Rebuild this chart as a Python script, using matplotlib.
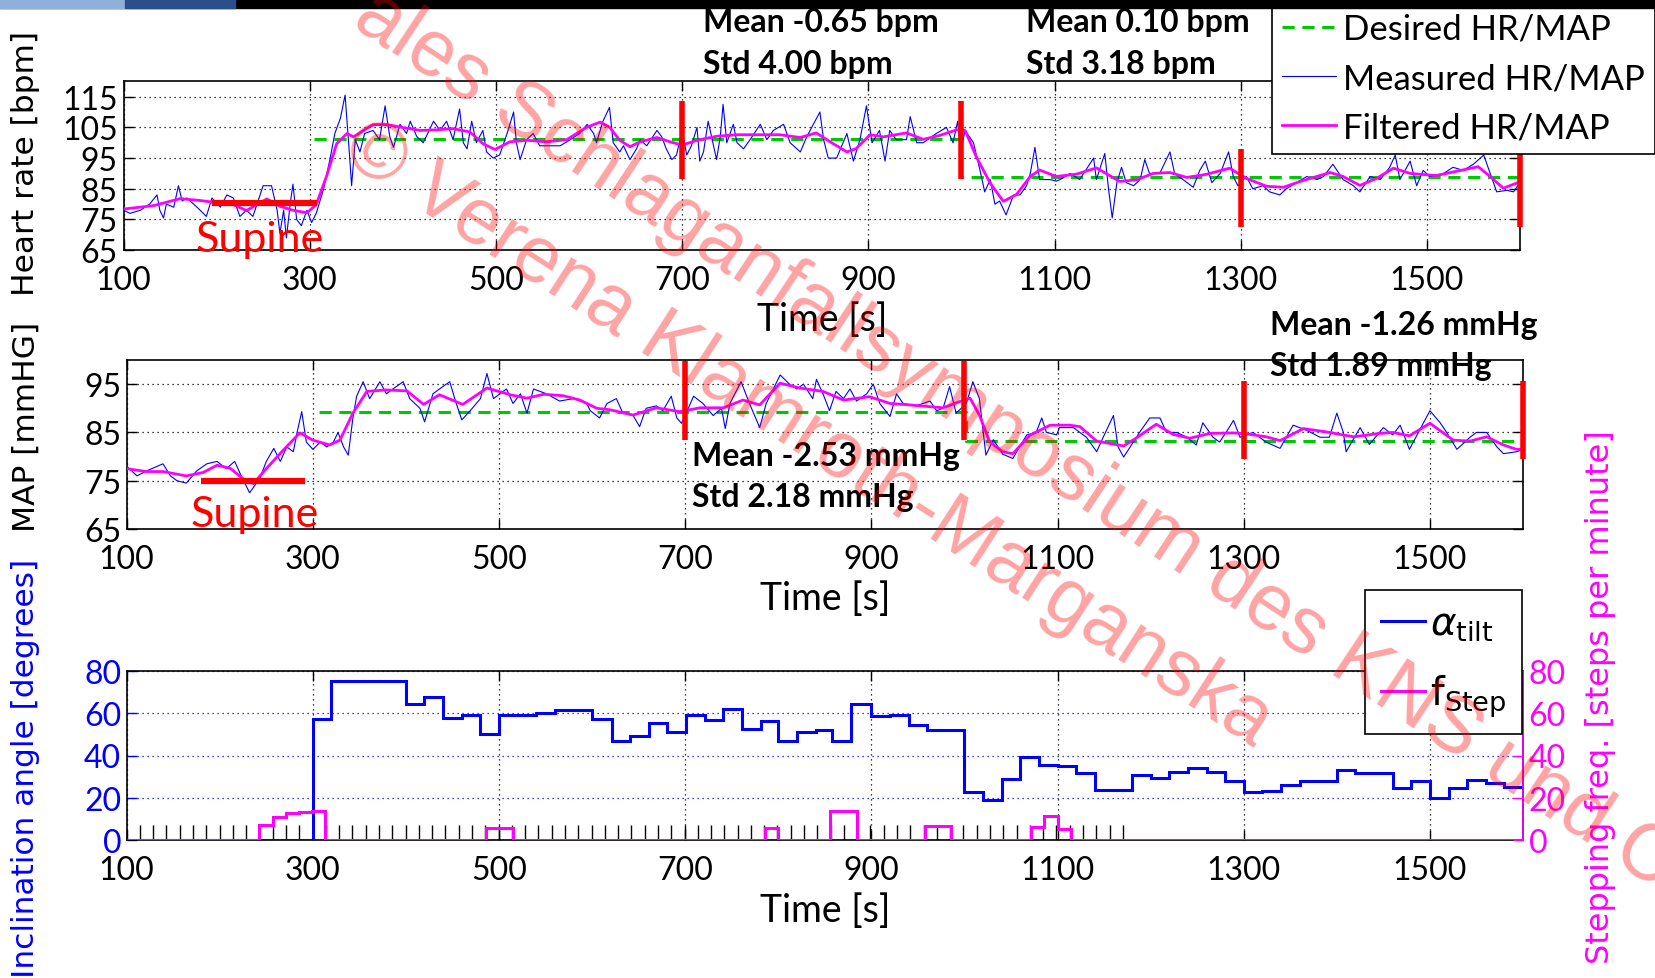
import numpy as np
import matplotlib
matplotlib.use("Agg")
import matplotlib.pyplot as plt
from matplotlib.patches import Rectangle

plt.rcParams['font.family'] = ['Lato', 'DejaVu Sans']
plt.rcParams['mathtext.fontset'] = 'dejavusans'

# ---------------- data ----------------
x_ticks = [100, 300, 500, 700, 900, 1100, 1300, 1500]

# heart rate, measured (blue)
hr_meas_t = [100, 107, 118, 128, 136, 139, 143, 146, 154, 159, 163, 168, 179, 189, 195, 204, 211, 218, 225, 232,
             239, 250, 259, 265, 268, 272, 275, 279, 282, 286, 291, 297, 302, 307, 315, 322, 327, 333, 338, 343,
             345, 349, 354, 359, 368, 375, 381, 386, 390, 397, 404, 408, 415, 422, 433, 440, 447, 454, 461, 465,
             469, 474, 479, 486, 490, 497, 504, 512, 519, 522, 526, 533, 540, 547, 554, 569, 580, 590, 598, 605,
             608, 615, 622, 626, 633, 637, 644, 651, 655, 662, 673, 678, 683, 689, 694, 700, 705, 710, 716, 719,
             723, 728, 733, 737, 741, 744, 748, 755, 759, 766, 773, 784, 791, 798, 809, 816, 827, 834, 841, 848,
             852, 857, 866, 877, 884, 891, 898, 904, 912, 918, 923, 930, 941, 945, 952, 959, 973, 984, 991, 996,
             999, 1004, 1013, 1020, 1025, 1031, 1036, 1041, 1048, 1056, 1063, 1070, 1074, 1079, 1084, 1095, 1102,
             1106, 1117, 1127, 1142, 1145, 1154, 1158, 1162, 1167, 1172, 1177, 1185, 1192, 1197, 1202, 1213, 1224,
             1229, 1238, 1249, 1256, 1262, 1269, 1278, 1287, 1292, 1297, 1306, 1313, 1324, 1331, 1342, 1349, 1360,
             1371, 1382, 1389, 1399, 1410, 1421, 1428, 1439, 1450, 1460, 1466, 1471, 1482, 1489, 1496, 1503, 1518,
             1528, 1539, 1550, 1561, 1568, 1575, 1586, 1593, 1600]
hr_meas = [78, 77, 78, 80, 83, 78, 75.5, 80, 79, 86, 81, 82, 79, 76, 82, 79, 83, 82, 76, 78,
           76, 86, 86, 78, 70.5, 78, 69, 80, 86.5, 75, 73, 78, 74, 77, 85, 95, 103, 108, 115.5, 95,
           86, 101, 97, 103, 104, 101, 112, 102, 98.5, 106, 103, 107, 102, 100, 107, 104, 107, 101, 111, 100,
           98, 107, 100, 104, 97, 95, 96, 103, 110, 100, 94.5, 101, 103, 99, 99, 99, 101, 103, 106, 103,
           100, 107, 111.5, 100, 97, 99, 94.5, 98, 101, 99, 104, 102, 98, 94.5, 96, 104, 96, 99, 105, 94,
           97, 107, 100, 94.5, 102, 112.5, 100, 106, 100, 98, 101, 106, 101, 104, 106, 100, 97, 102, 106, 110,
           101, 95, 95, 103, 94, 101, 112, 100, 104, 94, 104, 101, 101, 108.5, 100, 100, 103, 105, 100, 107,
           97, 104, 100, 91, 84, 88, 80, 81, 76.5, 83, 83, 86, 90, 98.5, 88, 88, 87.5,
           88, 90, 88, 95, 88, 96.5, 85, 75.5, 87, 92, 87, 86, 88, 94.5, 90, 90, 97,
           90, 88, 85.5, 91, 94, 87, 90, 97, 89, 86, 89, 85, 86, 84, 83, 85, 87,
           89, 88, 89, 93, 88, 86, 84, 89, 88, 92, 96, 88, 94, 86, 91, 89, 90,
           92, 91, 93, 96, 90, 84, 84.5, 84, 87]

# heart rate, filtered (magenta)
hr_filt_t = [100, 132, 161, 182, 197, 214, 232, 254, 268, 282, 297, 307, 318, 329, 340, 347, 368, 383, 401, 419,
             436, 454, 472, 486, 499, 515, 533, 554, 576, 598, 612, 622, 633, 644, 655, 673, 687, 700, 716, 737,
             759, 780, 805, 827, 844, 859, 877, 887, 902, 916, 941, 959, 977, 995, 1004, 1016, 1031, 1045, 1059,
             1074, 1084, 1102, 1124, 1145, 1170, 1188, 1206, 1224, 1242, 1263, 1288, 1306, 1328, 1346, 1364,
             1396, 1410, 1428, 1446, 1464, 1482, 1510, 1535, 1555, 1568, 1582, 1596, 1600]
hr_filt = [78.4, 79.5, 81.8, 81.2, 80.6, 80.4, 77.9, 81.7, 79.3, 78, 77.2, 79.8, 89, 99.7, 103, 101.9, 105.9, 105.9,
           104.9, 104, 104.2, 104.6, 103.5, 99.7, 97.8, 100.3, 100.8, 100.3, 101, 105.1, 106.7, 105.1, 100.8, 98.7,
           100.3, 101.7, 100.3, 99.2, 100.8, 102.1, 102.6, 102.6, 102.6, 101.7, 103.2, 100.3, 97, 98.1, 102.6,
           101.9, 103.2, 101.1, 102.4, 104.2, 104, 95.4, 86.8, 80.9, 83.1, 89, 91.1, 89, 89.8, 91.8, 87.4, 87.9,
           90, 90.3, 88.7, 89.7, 91.7, 88.4, 85.8, 85.5, 87.4, 90.3, 89, 86.1, 88.4, 91.7, 90, 89.3, 90.9, 92.2,
           89, 85.2, 86.8, 87.5]

# heart rate, desired (green)
hr_des_t = [305, 1000, 1000, 1600]
hr_des = [101.2, 101.2, 88.7, 88.7]

# mean arterial pressure, measured (blue)
map_meas_t = [100, 111, 121, 139, 147, 154, 164, 175, 186, 197, 207, 216, 223, 232, 243, 250, 258, 265, 272, 279,
              283, 288, 293, 300, 308, 315, 322, 327, 333, 338, 343, 347, 354, 361, 372, 379, 386, 397, 404, 415,
              420, 429, 436, 447, 454, 460, 469, 480, 487, 494, 508, 515, 523, 530, 537, 551, 565, 580, 594,
              598, 608, 616, 626, 633, 644, 651, 658, 669, 676, 685, 691, 696, 701, 709, 719, 730, 739, 743, 748,
              760, 769, 780, 787, 802, 812, 820, 827, 837, 841, 848, 855, 862, 870, 877, 884, 895, 902, 909, 920,
              927, 934, 948, 963, 970, 977, 984, 991, 1002, 1009, 1016, 1023, 1031, 1041, 1052, 1059, 1067, 1077,
              1083, 1088, 1099, 1102, 1117, 1131, 1142, 1149, 1160, 1165, 1171, 1178, 1188, 1199, 1210, 1217,
              1228, 1239, 1249, 1256, 1267, 1274, 1281, 1289, 1296, 1310, 1324, 1339, 1353, 1367, 1382, 1392,
              1400, 1407, 1410, 1425, 1435, 1450, 1460, 1468, 1478, 1489, 1500, 1511, 1518, 1529, 1543, 1550,
              1561, 1572, 1579, 1593, 1600]
map_meas = [78, 76, 77, 78.5, 76, 75, 74.5, 77, 78.5, 79, 77.5, 79, 76, 72.5, 75.5, 79, 81.7, 79, 82, 81,
            85, 89.3, 83, 81.5, 83, 82, 83, 85, 82, 80.3, 88, 92.5, 95.5, 92, 95.5, 93, 94, 95.5, 92, 90,
            87.2, 93, 94, 95.5, 91, 87.6, 89.5, 92, 97.2, 92, 94, 91, 93, 89, 94, 93, 91.5, 92, 91,
            89.5, 88, 91, 92, 89, 88.5, 86.2, 90, 90.5, 89.5, 92.5, 88, 86.9, 89, 92.5, 91, 88.5, 90, 85.8, 91,
            95.5, 91, 86, 91, 96.9, 95, 94, 95, 92, 96, 93, 89.5, 93.5, 92, 94, 91.5, 93, 95, 91, 88.3,
            93, 91, 90.5, 91.5, 89.5, 90, 94.5, 89, 91, 95.5, 92, 80.3, 83.5, 80.5, 79.6, 82, 84.5, 85,
            88, 85, 84.5, 86, 86, 84, 81, 84, 88.5, 82, 79.9, 82, 85, 88, 88, 85,
            85, 84, 82.4, 87, 84, 83, 85, 87.5, 84, 85, 83, 81.7, 86.5, 85.5, 84, 84,
            89, 85, 81, 86, 82.5, 86, 84.5, 86.5, 81.5, 85.5, 89.5, 87, 85, 81.5, 84, 85,
            85, 82, 80.6, 81, 81.5]

# mean arterial pressure, filtered (magenta)
map_filt_t = [100, 121, 139, 164, 182, 197, 211, 225, 236, 250, 268, 286, 300, 318, 329, 343, 358, 379, 401, 419,
              436, 461, 487, 512, 530, 548, 569, 587, 605, 619, 644, 669, 694, 716, 741, 762, 780, 802, 823, 848,
              870, 898, 920, 941, 977, 995, 1006, 1016, 1027, 1041, 1052, 1070, 1092, 1113, 1124, 1142, 1171,
              1185, 1206, 1224, 1242, 1264, 1289, 1303, 1324, 1339, 1364, 1389, 1418, 1446, 1460, 1478, 1500,
              1525, 1543, 1561, 1579, 1593, 1600]
map_filt = [77.5, 76.9, 76.9, 76, 76.7, 78.2, 77.6, 75.4, 74.4, 77.5, 81.3, 84.9, 83.4, 82.4, 83.4, 89, 93.5, 93.8,
            93.6, 90.8, 92.8, 90.8, 94.2, 92.8, 92.1, 92.9, 92.6, 91.7, 90, 89.7, 88.6, 90.1, 89.3, 90.1, 90.1,
            91.7, 90.7, 95.2, 94.2, 93.5, 91.7, 92.4, 91, 90.7, 90.1, 91.4, 92.1, 88.6, 83.1, 81, 80.6, 84.4,
            86.5, 86.5, 86.2, 83.2, 82.2, 83.9, 86.7, 84.6, 83.8, 84.8, 84.9, 84.7, 84.1, 83.3, 85.8, 85.1,
            84.1, 84.8, 85, 84.3, 86.9, 83.4, 83.2, 84.1, 82.4, 81.5, 81.5]

# mean arterial pressure, desired (green)
map_des_t = [307, 1002, 1002, 1600]
map_des = [89.2, 89.2, 83.2, 83.2]

# phase markers (red)
phase_t = [700, 1000, 1300, 1600]
hr_phase_lo = [88.1, 88.1, 72.6, 72.6]
hr_phase_hi = [113.5, 113.5, 97.8, 97.8]
map_phase_lo = [83.4, 83.4, 79.4, 79.4]
map_phase_hi = [99.8, 99.8, 95.7, 95.7]
hr_supine = (195, 308, 80.5)
map_supine = (180, 292, 74.9)

hr_stats = [("Mean -0.65 bpm", "Std 4.00 bpm"), ("Mean 0.10 bpm", "Std 3.18 bpm")]
map_stats = [("Mean -2.53 mmHg", "Std 2.18 mmHg"), ("Mean -1.26 mmHg", "Std 1.89 mmHg")]

# inclination angle (blue steps)
tilt_edges = [100, 300, 319, 400, 419, 440, 460, 480, 500, 540, 560, 600, 621, 641, 661, 680, 701, 721, 741, 761,
              781, 800, 820, 840, 858, 878, 900, 920, 940, 960, 1000, 1020, 1040, 1060, 1080, 1100, 1120, 1140,
              1180, 1200, 1220, 1240, 1260, 1280, 1300, 1320, 1340, 1360, 1400, 1420, 1440, 1460, 1480, 1500,
              1520, 1540, 1560, 1580, 1600]
tilt = [0, 57.4, 75.5, 64.2, 67.8, 57.7, 59.4, 50.4, 59.4, 60.2, 61.5, 57.5, 46.9, 49.4, 55.3, 51.2, 59, 56.7,
        61.8, 52.6, 56.1, 47.1, 51.3, 51.9, 47.1, 64.2, 58.5, 59, 54.5, 51.9, 22.6, 19.1, 28.9, 39.2, 35.6,
        34.8, 31.6, 23.7, 30.8, 29.4, 32.4, 34, 32.4, 27.7, 22.5, 23, 26.1, 27.7, 33.1, 31.6, 31.9, 24.7, 28.1,
        19.9, 24.7, 28.5, 27.2, 25.3]

# stepping frequency (magenta steps)
step_edges = [100, 242, 257, 271, 285, 299, 313, 486, 515, 786, 800, 856, 885, 958, 986, 1071, 1085, 1100, 1114,
              1600]
step_freq = [0, 7.1, 10.8, 12.7, 13.3, 13.8, 0, 5.5, 0, 5.5, 0, 13.9, 0, 6.5, 0, 6, 11.5, 5.2, 0]

# detected steps (black stems)
step_events = [114.2, 128.5, 142.7, 157.0, 171.3, 185.6, 199.8, 214.1, 228.4, 242.6, 256.9, 271.2, 285.4, 299.7,
               314.0, 328.3, 342.5, 356.8, 371.1, 385.3, 399.6, 413.9, 428.1, 442.4, 456.7, 470.9, 485.2, 499.5,
               513.8, 528.0, 542.3, 556.6, 570.8, 585.1, 599.4, 613.6, 627.9, 642.2, 656.5, 670.7, 685.0, 699.3,
               713.5, 727.8, 742.1, 756.3, 770.6, 784.9, 799.1, 813.4, 827.7, 842.0, 856.2, 870.5, 884.8, 899.0,
               913.3, 927.6, 941.8, 956.1, 970.4, 984.7, 998.9, 1013.2, 1027.5, 1041.7, 1056.0, 1070.3, 1084.5,
               1098.8, 1113.1, 1127.4, 1141.6, 1155.9, 1170.2]
step_event_height = 7

# ---------------- figure ----------------
W, H = 1655, 979
fig = plt.figure(figsize=(W / 100, H / 100), dpi=100)


def box(left, top, right, bottom):
    """pixel box -> figure fraction rect"""
    return [left / W, 1 - bottom / H, (right - left) / W, (bottom - top) / H]


def px(x, y):
    return x / W, 1 - y / H


ax1 = fig.add_axes(box(123.5, 82.3, 1520, 251.2))
ax2 = fig.add_axes(box(126.7, 361, 1523, 530))
ax3 = fig.add_axes(box(126.7, 672, 1523, 841))

BLUE = '#0000ff'
MAG = '#ff00ff'
GREEN = '#00c800'
RED = '#ff0000'
TICK_FS = 23
dots = (0, (1, 3))


def style(ax, yticks, ylim):
    ax.set_xlim(100, 1600)
    ax.set_ylim(*ylim)
    ax.set_xticks(x_ticks)
    ax.set_yticks(yticks)
    ax.tick_params(direction='in', length=7, width=1, top=True, right=True, labelsize=TICK_FS)
    ax.tick_params(axis='x', pad=11)
    ax.tick_params(axis='y', pad=4)
    ax.grid(True, color='black', linestyle=dots, linewidth=0.9)
    for s in ax.spines.values():
        s.set_linewidth(1.2)


# heart rate
style(ax1, [65, 75, 85, 95, 105, 115], (65, 120))
l_des, = ax1.plot(hr_des_t, hr_des, color=GREEN, lw=2.2, dashes=(4, 2.5), label='Desired HR/MAP', zorder=3)
l_meas, = ax1.plot(hr_meas_t, hr_meas, color=BLUE, lw=0.8, label='Measured HR/MAP', zorder=4)
l_filt, = ax1.plot(hr_filt_t, hr_filt, color=MAG, lw=2.0, label='Filtered HR/MAP', zorder=5)
ax1.vlines(phase_t, hr_phase_lo, hr_phase_hi, color=RED, lw=4, zorder=6, clip_on=False)
ax1.hlines(hr_supine[2], hr_supine[0], hr_supine[1], color=RED, lw=4.5, zorder=6)
ax1.text(246, 64.8, 'Supine', color=RED, fontsize=31, ha='center', va='baseline', zorder=7, clip_on=False)
ax1.set_xlabel('Time [s]', fontsize=27, labelpad=4)

# mean arterial pressure
style(ax2, [65, 75, 85, 95], (65, 100))
ax2.plot(map_des_t, map_des, color=GREEN, lw=2.2, dashes=(4, 2.5), zorder=3)
ax2.plot(map_meas_t, map_meas, color=BLUE, lw=0.8, zorder=4)
ax2.plot(map_filt_t, map_filt, color=MAG, lw=2.0, zorder=5)
ax2.vlines(phase_t, map_phase_lo, map_phase_hi, color=RED, lw=4, zorder=6, clip_on=False)
ax2.hlines(map_supine[2], map_supine[0], map_supine[1], color=RED, lw=4.5, zorder=6)
ax2.text(238, 65.6, 'Supine', color=RED, fontsize=31, ha='center', va='baseline', zorder=7, clip_on=False)
ax2.set_xlabel('Time [s]', fontsize=27, labelpad=4)

# inclination / stepping
ax3.set_xlim(100, 1600)
ax3.set_ylim(0, 80)
ax3.set_xticks(x_ticks)
ax3.set_yticks([0, 20, 40, 60, 80])
ax3.tick_params(direction='in', length=7, width=1, top=True, labelsize=TICK_FS)
ax3.tick_params(axis='x', pad=11)
ax3.tick_params(axis='y', pad=4, colors=BLUE)
ax3.xaxis.grid(True, color='black', linestyle=dots, linewidth=0.9)
ax3.yaxis.grid(True, color=BLUE, linestyle=dots, linewidth=0.9)
for s in ax3.spines.values():
    s.set_linewidth(1.2)
ax3.vlines(step_events, 0, step_event_height, color='black', lw=1, zorder=2)
l_tilt = ax3.stairs(tilt, tilt_edges, baseline=None, color=BLUE, lw=2.2, zorder=3)
ax3.set_xlabel('Time [s]', fontsize=27, labelpad=5)

ax3r = ax3.twinx()
ax3r.set_ylim(0, 80)
ax3r.set_yticks([0, 20, 40, 60, 80])
ax3r.tick_params(direction='in', length=7, width=1, labelsize=TICK_FS, colors=MAG, pad=4)
for k in ['left', 'top', 'bottom']:
    ax3r.spines[k].set_visible(False)
ax3r.spines['right'].set_color(MAG)
ax3r.spines['right'].set_linewidth(1.2)
l_step = ax3r.stairs(step_freq, step_edges, baseline=None, color=MAG, lw=2.2, zorder=3)

# y labels
fig.text(*px(26, 164), 'Heart rate [bpm]', family='DejaVu Sans', fontsize=22.5, rotation=90,
         ha='center', va='center')
fig.text(*px(26, 427), 'MAP [mmHG]', family='DejaVu Sans', fontsize=22.5, rotation=90,
         ha='center', va='center')
fig.text(*px(26, 768), 'Inclination angle [degrees]', family='DejaVu Sans', fontsize=22.5, rotation=90,
         ha='center', va='center', color=BLUE)
fig.text(*px(1600, 697), 'Stepping freq. [steps per minute]', family='DejaVu Sans', fontsize=23,
         rotation=90, ha='center', va='center', color=MAG)

# statistics
for (m, s), x0 in zip(hr_stats, [703, 1026]):
    fig.text(*px(x0, 32), m, fontsize=23, fontweight='bold', ha='left', va='baseline')
    fig.text(*px(x0, 74), s, fontsize=23, fontweight='bold', ha='left', va='baseline')
for (m, s), (x0, y0) in zip(map_stats, [(692, 466), (1270, 335)]):
    fig.text(*px(x0, y0), m, fontsize=23, fontweight='bold', ha='left', va='baseline', zorder=8)
    fig.text(*px(x0, y0 + 41), s, fontsize=23, fontweight='bold', ha='left', va='baseline', zorder=8)

# legends
leg = fig.legend([l_des, l_meas, l_filt], ['Desired HR/MAP', 'Measured HR/MAP', 'Filtered HR/MAP'],
                 loc='lower left', bbox_to_anchor=px(1272, 155), fontsize=25, frameon=True,
                 fancybox=False, edgecolor='black', framealpha=1, handlelength=1.55,
                 handletextpad=0.2, labelspacing=0.5, borderpad=0.3, borderaxespad=0)
leg.get_frame().set_linewidth(1.2)

leg3 = fig.legend([l_tilt, l_step], [r'$\alpha_{\mathrm{tilt}}$', r'$\mathrm{f}_{\mathrm{Step}}$'],
                  loc='upper left', bbox_to_anchor=px(1365, 591), fontsize=28, frameon=True,
                  fancybox=False, edgecolor='black', framealpha=1, handlelength=1.15,
                  handletextpad=0.12, labelspacing=0.75, borderpad=0.4, borderaxespad=0)
leg3.get_frame().set_linewidth(1.2)

# slide background strip at the top
fig.patches.append(Rectangle(px(0, 9), 1, 9 / H, transform=fig.transFigure, color='black', zorder=20))
fig.patches.append(Rectangle(px(0, 9), 125 / W, 9 / H, transform=fig.transFigure, color='#8fb0d8', zorder=21))
fig.patches.append(Rectangle(px(125, 9), 110 / W, 9 / H, transform=fig.transFigure, color='#2a4f8a', zorder=21))

# watermark
wm = dict(family='Liberation Sans', fontsize=57, color=RED, alpha=0.36, rotation=-33.5,
          rotation_mode='anchor', ha='left', va='center', zorder=30)
fig.text(*px(362, 8), 'ales Schlaganfallsymposium des KNS und C', **wm)
wm['rotation'] = -32.8
fig.text(*px(350, 140), '\u00a9 Verena Klamroth-Marganska', **wm)

fig.savefig('out.png', dpi=100)
